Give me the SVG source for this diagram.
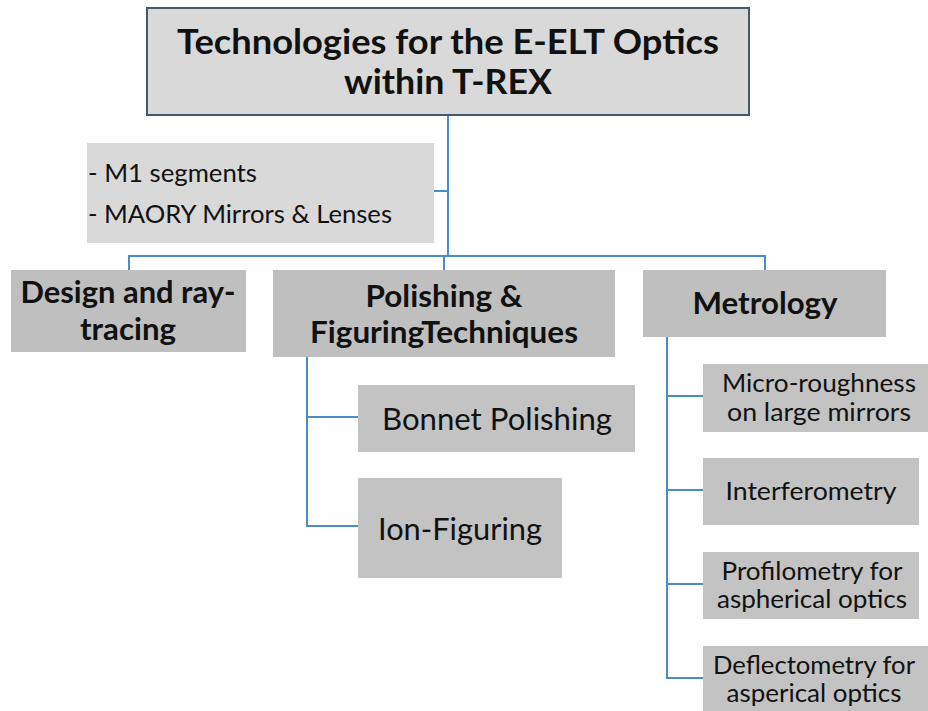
<svg xmlns="http://www.w3.org/2000/svg" width="928" height="711" viewBox="0 0 928 711">
<style>
  .bg { fill: #ffffff; }
  .title-box { fill: #d9d9d9; stroke: #44596a; stroke-width: 2; }
  .light-box { fill: #d9d9d9; }
  .head-box { fill: #bfbfbf; }
  .sub-box { fill: #c3c3c3; }
  .conn { fill: none; stroke: #4a8cc7; stroke-width: 2; }
  text { font-family: Lato, "Open Sans", "Liberation Sans", sans-serif; fill: #111111; }
  .t-title { font-size: 34px; font-weight: bold; text-anchor: middle; }
  .t-head { font-size: 30px; font-weight: bold; text-anchor: middle; }
  .t-sub { font-size: 30px; text-anchor: middle; }
  .t-small { font-size: 25.5px; text-anchor: middle; }
  .t-list { font-size: 25.5px; }
</style>
<rect class="bg" x="0" y="0" width="928" height="711"/>

<g id="connectors">
  <path class="conn" d="M448,115 V256"/>
  <path class="conn" d="M434,191 H448"/>
  <path class="conn" d="M129,271 V256 H765 V270"/>
  <path class="conn" d="M444,256 V270"/>
  <path class="conn" d="M307,357 V526 H358"/>
  <path class="conn" d="M307,417 H358"/>
  <path class="conn" d="M667,337 V678 H703"/>
  <path class="conn" d="M667,396 H703"/>
  <path class="conn" d="M667,490 H703"/>
  <path class="conn" d="M667,584 H703"/>
</g>

<g id="title">
  <rect class="title-box" x="147" y="8" width="602" height="107"/>
  <text class="t-title" x="448" y="54" textLength="542" lengthAdjust="spacingAndGlyphs">Technologies for the E-ELT Optics</text>
  <text class="t-title" x="448" y="94" textLength="208" lengthAdjust="spacingAndGlyphs">within T-REX</text>
</g>

<g id="scope">
  <rect class="light-box" x="87" y="143" width="347" height="100"/>
  <text class="t-list" x="88" y="182" textLength="169" lengthAdjust="spacingAndGlyphs">- M1 segments</text>
  <text class="t-list" x="88" y="223" textLength="304" lengthAdjust="spacingAndGlyphs">- MAORY Mirrors &amp; Lenses</text>
</g>

<g id="design">
  <rect class="head-box" x="11" y="270" width="235" height="82"/>
  <text class="t-head" x="128" y="303" textLength="215" lengthAdjust="spacingAndGlyphs">Design and ray-</text>
  <text class="t-head" x="128" y="340" textLength="96" lengthAdjust="spacingAndGlyphs">tracing</text>
</g>

<g id="polishing">
  <rect class="head-box" x="273" y="270" width="342" height="87"/>
  <text class="t-head" x="444" y="307" textLength="157" lengthAdjust="spacingAndGlyphs">Polishing &amp;</text>
  <text class="t-head" x="444" y="343" textLength="268" lengthAdjust="spacingAndGlyphs">FiguringTechniques</text>
</g>

<g id="metrology">
  <rect class="head-box" x="643" y="270" width="243" height="67"/>
  <text class="t-head" x="765" y="314" textLength="145" lengthAdjust="spacingAndGlyphs">Metrology</text>
</g>

<g id="bonnet">
  <rect class="sub-box" x="358" y="385" width="277" height="67"/>
  <text class="t-sub" x="497" y="430" textLength="230" lengthAdjust="spacingAndGlyphs">Bonnet Polishing</text>
</g>

<g id="ion">
  <rect class="sub-box" x="358" y="478" width="204" height="100"/>
  <text class="t-sub" x="460" y="540" textLength="164" lengthAdjust="spacingAndGlyphs">Ion-Figuring</text>
</g>

<g id="micro">
  <rect class="sub-box" x="703" y="364" width="225" height="68"/>
  <text class="t-small" x="819" y="392" textLength="194" lengthAdjust="spacingAndGlyphs">Micro-roughness</text>
  <text class="t-small" x="819" y="421" textLength="184" lengthAdjust="spacingAndGlyphs">on large mirrors</text>
</g>

<g id="interferometry">
  <rect class="sub-box" x="703" y="458" width="216" height="67"/>
  <text class="t-small" x="811" y="500" textLength="171" lengthAdjust="spacingAndGlyphs">Interferometry</text>
</g>

<g id="profilometry">
  <rect class="sub-box" x="703" y="552" width="216" height="67"/>
  <text class="t-small" x="812" y="580" textLength="181" lengthAdjust="spacingAndGlyphs">Profilometry for</text>
  <text class="t-small" x="812" y="608" textLength="190" lengthAdjust="spacingAndGlyphs">aspherical optics</text>
</g>

<g id="deflectometry">
  <rect class="sub-box" x="703" y="646" width="225" height="70"/>
  <text class="t-small" x="814" y="674" textLength="202" lengthAdjust="spacingAndGlyphs">Deflectometry for</text>
  <text class="t-small" x="814" y="702" textLength="175" lengthAdjust="spacingAndGlyphs">asperical optics</text>
</g>
</svg>
